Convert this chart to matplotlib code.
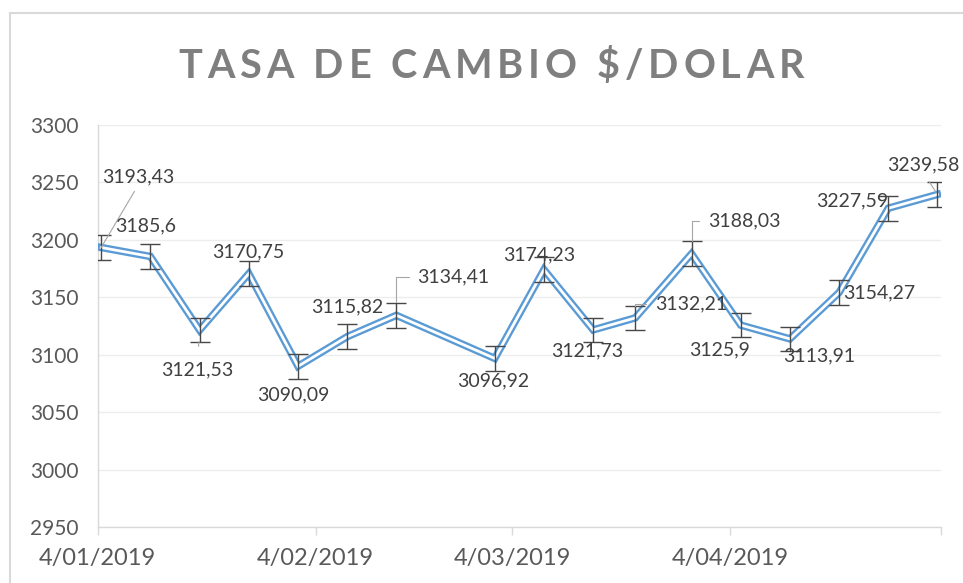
import numpy as np
import pandas as pd
import matplotlib

matplotlib.use("Agg")
import matplotlib.pyplot as plt
from matplotlib.lines import Line2D
from matplotlib.font_manager import FontProperties, findfont
from matplotlib.ft2font import FT2Font

# weekly exchange rate (COP per USD)
dates = pd.to_datetime([
    "2019-01-04", "2019-01-11", "2019-01-18", "2019-01-25", "2019-02-01",
    "2019-02-08", "2019-02-15", "2019-03-01", "2019-03-08", "2019-03-15",
    "2019-03-21", "2019-03-29", "2019-04-05", "2019-04-12", "2019-04-19",
    "2019-04-26", "2019-05-03",
])
rates = [
    3193.43, 3185.6, 3121.53, 3170.75, 3090.09, 3115.82, 3134.41, 3096.92,
    3174.23, 3121.73, 3132.21, 3188.03, 3125.9, 3113.91, 3154.27, 3227.59,
    3239.58,
]
month_ticks = pd.to_datetime(["2019-01-04", "2019-02-04", "2019-03-04", "2019-04-04", "2019-05-04"])
title = "TASA DE CAMBIO $/DOLAR"

# label placement (pixel offsets from each point) and leader-line style per label
label_offsets = [
    (37, 71), (-5, 31), (-2, -40), (-1, 22), (-5, -29), (0, 30), (57, 38), (-2, -22),
    (-5, 15), (-6, -21), (56, 14), (53, 33), (-21, -25), (29, -17), (40, 0), (-36, 7),
    (-14, 30),
]
leaders = {
    0: dict(relpos=(0.5, 0.0), shrinkA=3, shrinkB=0, connectionstyle="arc3"),
    2: dict(relpos=(0.5, 1.0), shrinkA=9, shrinkB=8.5, connectionstyle="arc3"),
    6: dict(relpos=(0.0, 0.5), shrinkA=4, shrinkB=9.5, connectionstyle="angle,angleA=0,angleB=90,rad=0"),
    10: dict(relpos=(0.0, 0.5), shrinkA=5, shrinkB=8.5, connectionstyle="angle,angleA=0,angleB=90,rad=0"),
    11: dict(relpos=(0.0, 0.5), shrinkA=5, shrinkB=9, connectionstyle="angle,angleA=0,angleB=90,rad=0"),
    16: dict(relpos=(0.5, 0.0), shrinkA=5, shrinkB=2, connectionstyle="arc3"),
}

BLUE = "#5B9BD5"
TEXT = "#595959"
AXIS = "#D9D9D9"
W, H = 963, 583

values = np.array(rates)
std_err = values.std(ddof=1) / np.sqrt(len(values))
# Excel date axis "between tick marks": points sit in the middle of their day
xs = dates + pd.Timedelta(hours=12)

fig = plt.figure(figsize=(W / 100, H / 100), dpi=100)
ax = fig.add_axes([97.7 / W, 55.7 / H, (941 - 97.7) / W, (527.3 - 125) / H])

ax.plot(xs, values, color=BLUE, lw=5.4, solid_joinstyle="miter", zorder=3)
ax.plot(xs, values, color="white", lw=2.0, solid_joinstyle="miter", zorder=4)
ax.errorbar(xs, values, yerr=std_err, fmt="none", ecolor="#474747", elinewidth=1.0,
            capsize=7, capthick=1.0, zorder=5)

for i, (x, v) in enumerate(zip(xs, values)):
    dx, dy = label_offsets[i]
    kw = {}
    if i in leaders:
        ld = leaders[i]
        kw["arrowprops"] = dict(arrowstyle="-", color="#A6A6A6", lw=0.8,
                                relpos=ld["relpos"], shrinkA=ld["shrinkA"], shrinkB=ld["shrinkB"],
                                connectionstyle=ld["connectionstyle"])
    ax.annotate(f"{v:g}".replace(".", ","), xy=(x, v), xytext=(dx, dy),
                textcoords="offset pixels", ha="center", va="center",
                fontsize=14, family="Lato", color="#404040", zorder=6, **kw)

ax.set_ylim(2950, 3300)
ax.set_yticks(np.arange(2950, 3301, 50))
ax.set_xlim(month_ticks[0], month_ticks[-1])
ax.set_xticks(month_ticks)
ax.set_xticklabels([f"{d.day}/{d.month:02d}/{d.year}" for d in month_ticks[:-1]] + [""])

ax.grid(axis="y", color="#EDEDED", lw=1.0)
ax.set_axisbelow(True)
for side in ("top", "right"):
    ax.spines[side].set_visible(False)
for side in ("left", "bottom"):
    ax.spines[side].set_color(AXIS)
    ax.spines[side].set_linewidth(1.0)
ax.tick_params(axis="y", length=0, pad=14, labelsize=15, labelcolor=TEXT)
ax.tick_params(axis="x", length=6, width=1.0, color=AXIS, pad=9, labelsize=17, labelcolor=TEXT)
for lab in ax.get_xticklabels() + ax.get_yticklabels():
    lab.set_family("Lato")

# title with Excel-like letter spacing: place characters one by one
title_size = 28.5
title_left, title_right, title_base = 178, 800, 77.7
font = FT2Font(findfont(FontProperties(family="Lato", weight="bold")))
font.set_size(title_size, 100)
advances = [font.load_char(ord(c)).linearHoriAdvance / 65536 for c in title]
spacing = (title_right - title_left - sum(advances[:-1]) - advances[-1] * 0.85) / (len(title) - 1)
pen = title_left
for c, adv in zip(title, advances):
    if c != " ":
        fig.text(pen / W, 1 - title_base / H, c, ha="left", va="baseline",
                 fontsize=title_size, fontweight="bold", family="Lato", color="#7F7F7F")
    pen += adv + spacing

# chart area border (only top and left fall inside the image)
fig.add_artist(Line2D([10 / W, 10 / W], [0, 1 - 13 / H], color=AXIS, lw=1.5))
fig.add_artist(Line2D([10 / W, 1], [1 - 13 / H, 1 - 13 / H], color=AXIS, lw=1.5))

fig.savefig("out.png", dpi=100)
